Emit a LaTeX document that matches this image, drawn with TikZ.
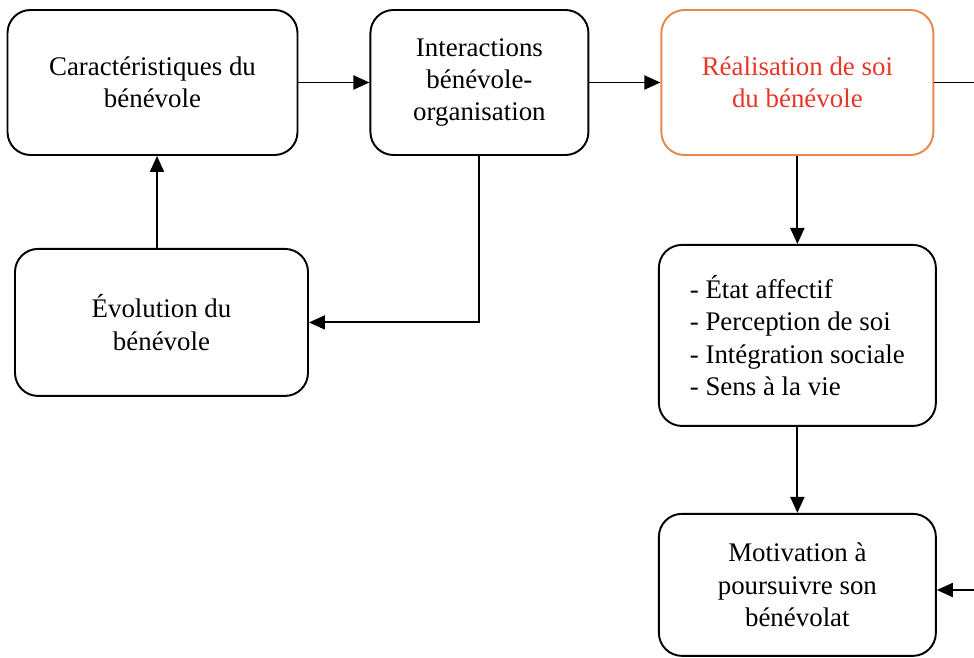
\documentclass[tikz,border=0pt]{standalone}
\usepackage{fontspec}
\setmainfont{Liberation Serif}
\usetikzlibrary{arrows.meta,positioning,calc}
\definecolor{EdgeOrange}{RGB}{228,137,72}
\definecolor{TextRed}{RGB}{232,54,40}
\tikzset{
  box/.style={draw=black,rounded corners=0.46cm,line width=1.1pt,fill=white,
    minimum height=2.9cm,align=center,font=\fontsize{15.3}{18.4}\selectfont},
  selfbox/.style={box,draw=EdgeOrange,text=TextRed},
  arrow/.style={-{Triangle[length=0.32cm,width=0.28cm]},line width=1.1pt,black},
  link/.style={line width=1.1pt,black}
}
\begin{document}
\begin{tikzpicture}
      \useasboundingbox (0,0) rectangle (19.48,13.16);
      \node[box,minimum width=5.8cm] (traits) at (3.05,11.51)
        {Caractéristiques du\\bénévole};
      \node[box,minimum width=4.36cm,right=1.42cm of traits] (inter)
        {Interactions\\bénévole-\\organisation};
      \node[selfbox,minimum width=5.44cm,right=1.42cm of inter] (real)
        {Réalisation de soi\\du bénévole};
      \node[box,minimum width=5.86cm,minimum height=2.94cm,
        below=1.84cm of traits,xshift=0.18cm] (evol) {Évolution du\\bénévole};
      \node[box,minimum width=5.54cm,minimum height=3.62cm,align=left,
        below=1.76cm of real] (dims)
        {- État affectif\\- Perception de soi\\- Intégration sociale\\- Sens à la vie};
      \node[box,minimum width=5.54cm,minimum height=2.84cm,
        below=1.72cm of dims] (motiv) {Motivation à\\poursuivre son\\bénévolat};
      \coordinate (outR) at (19.48,11.51);
      \coordinate (inR) at (19.48,1.36);
      \coordinate (up) at (3.14,0);
      \draw[arrow] (traits) -- (inter);
      \draw[arrow] (inter) -- (real);
      \draw[link] (real.east) -- (outR);
      \draw[arrow] (real) -- (dims);
      \draw[arrow] (dims) -- (motiv);
      \draw[arrow] (inR) -- (inR -| motiv.east);
      \draw[arrow] (inter.south) |- (evol.east);
      \draw[arrow] (up |- evol.north) -- (up |- traits.south);
    \end{tikzpicture}
\end{document}
